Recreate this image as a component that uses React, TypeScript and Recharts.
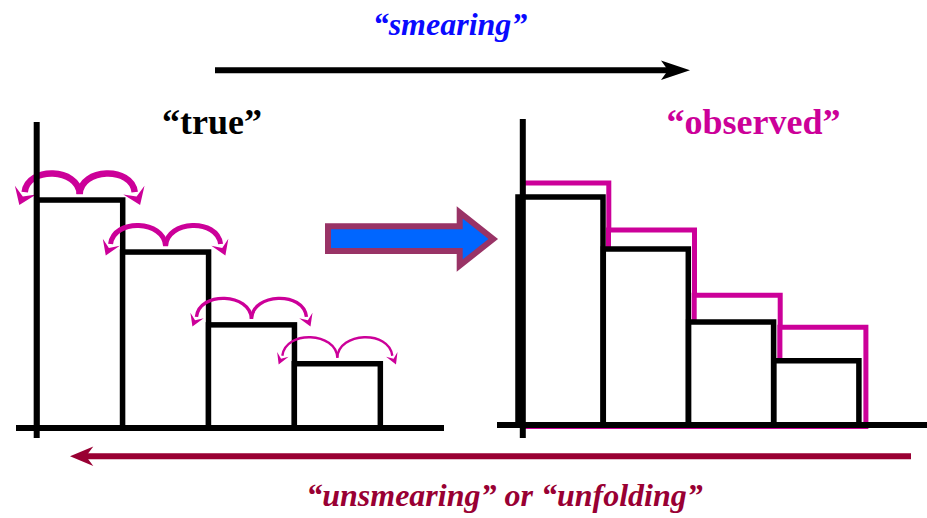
import React from 'react';
import { BarChart, Bar, XAxis, YAxis, ReferenceLine } from 'recharts';

// ---- data ----
const bins = ['b1', 'b2', 'b3', 'b4'];
const trueCounts = [74.5, 57.5, 33.7, 21.0];
const observedCounts = [79.2, 63.9, 42.7, 32.3];

const titleTrue = '\u201Ctrue\u201D';
const titleObserved = '\u201Cobserved\u201D';
const labelSmearing = '\u201Csmearing\u201D';
const labelUnfolding = '\u201Cunsmearing\u201D or \u201Cunfolding\u201D';

const leftData = bins.map((bin, i) => ({ bin, trueCount: trueCounts[i] }));
const rightData = bins.map((bin, i) => ({
  bin,
  trueCount: trueCounts[i],
  observedCount: observedCounts[i],
}));

// ---- styles ----
const MAGENTA = '#cc0099';
const CRIMSON = '#990033';
const BLUE_TEXT = '#0a0aff';
const ARROW_FILL = '#0066ff';
const ARROW_EDGE = '#993366';
const FONT = '"Liberation Serif", "Times New Roman", serif';

const arcStroke = [6.5, 5, 3.4, 2.4];
const headHalf = [11.5, 9.2, 7.2, 6.2];
const headLen = [14, 12.5, 10.5, 9.5];

function arrowHead(ex: number, ey: number, dx: number, dy: number, len: number, half: number) {
  const m = Math.hypot(dx, dy);
  const ux = dx / m;
  const uy = dy / m;
  const nx = -uy;
  const ny = ux;
  const tx = ex + ux * len;
  const ty = ey + uy * len;
  const kx = ex + ux * len * 0.35;
  const ky = ey + uy * len * 0.35;
  const bx = ex - ux * len * 0.15;
  const by = ey - uy * len * 0.15;
  return `${tx},${ty} ${bx + nx * half},${by + ny * half} ${kx},${ky} ${bx - nx * half},${by - ny * half}`;
}

function TrueBar(props: any) {
  const { x, y, width, height, index } = props;
  const cx = x + width / 2;
  const i = index ?? 0;
  const sw = arcStroke[i] ?? 3;
  const W = headHalf[i] ?? 6;
  const L = headLen[i] ?? 10;
  const jy = y - 6;
  const hump = (s: number) =>
    `M ${cx} ${jy} C ${cx + s * 1} ${y - 32} ${cx + s * 52} ${y - 34} ${cx + s * 55} ${y - 8}`;
  return (
    <g>
      <rect x={x} y={y} width={width} height={height} fill="#fff" stroke="#000" strokeWidth={5.5} />
      <path d={hump(-1)} fill="none" stroke={MAGENTA} strokeWidth={sw} />
      <path d={hump(1)} fill="none" stroke={MAGENTA} strokeWidth={sw} />
      <polygon points={arrowHead(cx - 55, y - 8, -5, 12, L, W)} fill={MAGENTA} />
      <polygon points={arrowHead(cx + 55, y - 8, 5, 12, L, W)} fill={MAGENTA} />
    </g>
  );
}

const layer: React.CSSProperties = { position: 'absolute', left: 0, top: 0 };

export default function App() {
  return (
    <div
      style={{
        position: 'absolute',
        left: 0,
        top: 0,
        width: 927,
        height: 518,
        overflow: 'hidden',
        background: '#fff',
      }}
    >
      <div style={layer}>
        <BarChart
          width={927}
          height={518}
          data={leftData}
          margin={{ top: 122, left: 16, right: 483, bottom: 80 }}
          barCategoryGap={0}
          barGap={0}
        >
          <XAxis dataKey="bin" hide padding={{ left: 20.7, right: 63.8 }} />
          <YAxis hide domain={[0, 100]} padding={{ top: 0, bottom: 10 }} />
          <Bar dataKey="trueCount" isAnimationActive={false} shape={<TrueBar />} />
          <ReferenceLine y={0} stroke="#000" strokeWidth={6} />
          <ReferenceLine x="b1" position="start" stroke="#000" strokeWidth={6} />
        </BarChart>
      </div>

      <div style={layer}>
        <BarChart
          width={927}
          height={518}
          data={rightData}
          margin={{ top: 119, left: 497, right: 0, bottom: 80 }}
          barCategoryGap={0}
          barGap={0}
        >
          <XAxis xAxisId="t" dataKey="bin" hide padding={{ left: 21, right: 67.8 }} />
          <XAxis xAxisId="o" dataKey="bin" hide padding={{ left: 25.8, right: 61.4 }} />
          <YAxis yAxisId="t" hide domain={[0, 100]} padding={{ top: 0, bottom: 13 }} />
          <YAxis yAxisId="o" hide domain={[0, 100]} padding={{ top: 0, bottom: 11.5 }} />
          <Bar
            xAxisId="o"
            yAxisId="o"
            dataKey="observedCount"
            fill="#fff"
            stroke={MAGENTA}
            strokeWidth={5}
            isAnimationActive={false}
          />
          <Bar
            xAxisId="t"
            yAxisId="t"
            dataKey="trueCount"
            fill="#fff"
            stroke="#000"
            strokeWidth={5.5}
            isAnimationActive={false}
          />
          <ReferenceLine xAxisId="t" yAxisId="t" y={0} stroke="#000" strokeWidth={6} />
          <ReferenceLine xAxisId="o" yAxisId="t" x="b1" position="start" stroke="#000" strokeWidth={6} />
        </BarChart>
      </div>

      <svg width={927} height={518} style={{ ...layer, pointerEvents: 'none' }}>
        <text
          x={450}
          y={35}
          textAnchor="middle"
          fontFamily={FONT}
          fontWeight="bold"
          fontStyle="italic"
          fontSize={32}
          fill={BLUE_TEXT}
        >
          {labelSmearing}
        </text>
        <line x1={215} y1={70.3} x2={670} y2={70.3} stroke="#000" strokeWidth={6} />
        <polygon points="690,70.3 661,60.5 668,70.3 661,80" fill="#000" />

        <text x={212} y={134} textAnchor="middle" fontFamily={FONT} fontWeight="bold" fontSize={36} fill="#000">
          {titleTrue}
        </text>
        <text x={753.5} y={134} textAnchor="middle" fontFamily={FONT} fontWeight="bold" fontSize={36} fill={MAGENTA}>
          {titleObserved}
        </text>

        <polygon
          points="328,226.3 459.7,226.3 459.7,212.5 493.2,239 459.7,265.5 459.7,251 328,251"
          fill={ARROW_FILL}
          stroke={ARROW_EDGE}
          strokeWidth={6}
          strokeLinejoin="miter"
        />

        <line x1={84} y1={456.3} x2={911} y2={456.3} stroke={CRIMSON} strokeWidth={6} />
        <polygon points="70,456.3 93.3,446.5 86,456.3 93.3,466" fill={CRIMSON} />
        <text
          x={504.5}
          y={506}
          textAnchor="middle"
          fontFamily={FONT}
          fontWeight="bold"
          fontStyle="italic"
          fontSize={32}
          fill={CRIMSON}
        >
          {labelUnfolding}
        </text>
      </svg>
    </div>
  );
}
